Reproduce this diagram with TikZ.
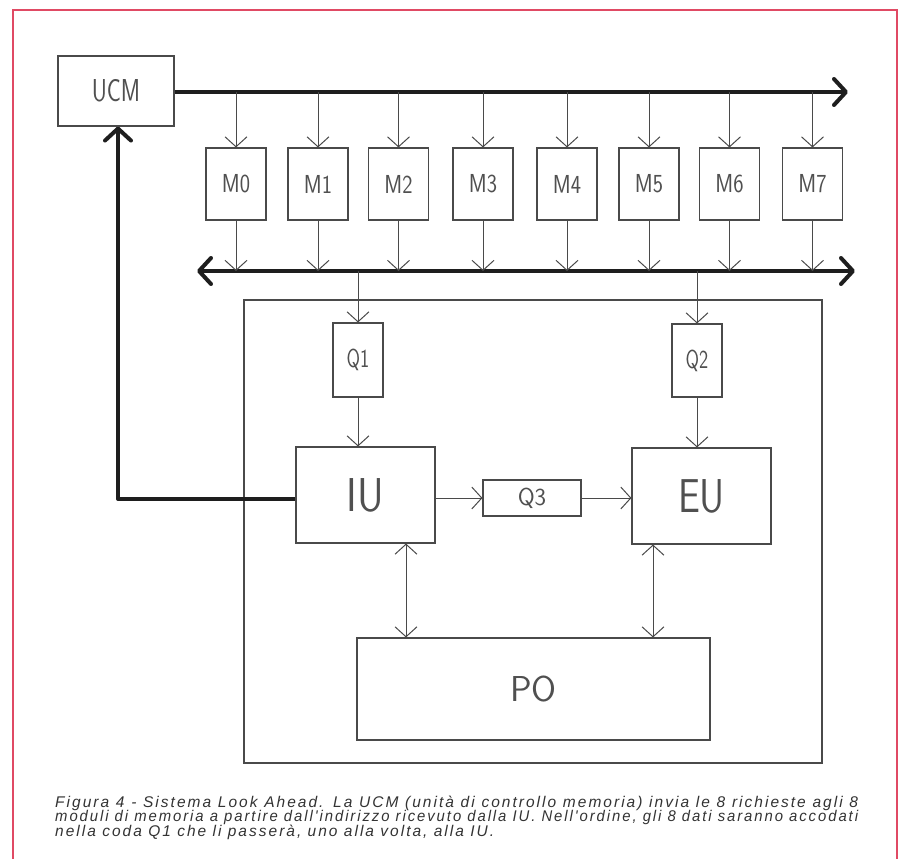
\documentclass[tikz,border=0pt]{standalone}
\usepackage{fontspec}
\usetikzlibrary{arrows.meta,calc}
\newfontfamily\capfont[LetterSpace=13]{Liberation Sans}
\definecolor{ink}{HTML}{4A4A4A}
\definecolor{labink}{HTML}{505050}
\definecolor{busink}{HTML}{1E1E1E}
\definecolor{frame}{HTML}{E04A64}
\newcommand{\lbl}[3]{\scalebox{#2}[1]{\fontsize{#1}{#1}\selectfont\sffamily #3}}
\newsavebox\capbox
\newcommand{\fitline}[1]{\sbox\capbox{#1}\ifdim\wd\capbox>803pt \resizebox{803pt}{\ht\capbox}{\usebox\capbox}\else\makebox[803pt][s]{#1}\fi}
\begin{document}
\begin{tikzpicture}[x=1pt,y=-1pt,
  box/.style={draw=ink,line width=1.1pt,inner sep=0pt,text=labink},
  wire/.style={draw=ink,line width=1pt},
  arr/.style={wire,-{Straight Barb[length=10pt,width=22pt]}},
  darr/.style={wire,{Straight Barb[length=10pt,width=22pt]}-{Straight Barb[length=10pt,width=22pt]}},
  busline/.style={draw=busink,line width=4pt,line join=round},
  bustip/.style={busline,-{Straight Barb[length=12pt,width=26pt,line cap=round,line join=round]}},
  bustips/.style={busline,{Straight Barb[length=12pt,width=26pt,line cap=round,line join=round]}-{Straight Barb[length=12pt,width=26pt,line cap=round,line join=round]}},
  captxt/.style={anchor=base west,inner sep=0pt,text=black!80,font=\capfont\itshape\fontsize{15.5}{15.5}\selectfont}]
\useasboundingbox (0,0) rectangle (898,859);
\fill[white] (0,0) rectangle (898,859);
% frame
\draw[frame,line width=2pt] (13,859) -- (13,10) -- (897,10) -- (897,859);
% boxes
\node[box,minimum width=116pt,minimum height=70pt] (ucm) at (116,91) {\lbl{31.7}{0.74}{UCM}};
\foreach \i/\x in {0/236,1/318,2/398.5,3/483,4/567,5/649,6/729.5,7/812.5}{
  \node[box,minimum width=60pt,minimum height=72pt] (m\i) at (\x,184) {\lbl{26}{0.84}{M\i}};
}
\node[box,minimum width=578pt,minimum height=463pt] (cpu) at (533,531.5) {};
\node[box,minimum width=50pt,minimum height=74pt] (q1) at (358,360) {\lbl{26}{0.75}{Q1}};
\node[box,minimum width=50pt,minimum height=73pt] (q2) at (697,360.5) {\lbl{26}{0.75}{Q2}};
\node[box,minimum width=139pt,minimum height=96pt] (iu) at (365.5,495) {\lbl{47.5}{0.87}{IU}};
\node[box,minimum width=139pt,minimum height=96pt] (eu) at (701.5,496) {\lbl{47.5}{0.82}{EU}};
\node[box,minimum width=98pt,minimum height=36pt] (q3) at (532,498) {\lbl{24.5}{1}{Q3}};
\node[box,minimum width=353pt,minimum height=102pt] (po) at (533.5,689) {\lbl{36}{1}{PO}};
% buses
\coordinate (tr) at (848,92);
\coordinate (bl) at (197,271);
\coordinate (br) at (855,271);
\coordinate (fb) at (118,499);
\draw[bustip] (ucm.east |- tr) -- (tr);
\draw[bustips] (bl) -- (br);
\draw[bustip] (iu.west |- fb) -- (fb) -- (ucm.south -| fb);
% memory arrows
\foreach \i in {0,...,7}{
  \draw[arr] (m\i.north |- tr) -- (m\i.north);
  \draw[arr] (m\i.south) -- (m\i.south |- bl);
}
% queues
\draw[arr] (q1.north |- bl) -- (q1.north);
\draw[arr] (q2.north |- bl) -- (q2.north);
\draw[arr] (q1.south) -- (q1.south |- iu.north);
\draw[arr] (q2.south) -- (q2.south |- eu.north);
\draw[arr] (iu.east |- q3.west) -- (q3.west);
\draw[arr] (q3.east) -- (q3.east -| eu.west);
\draw[darr] ([xshift=40.5pt]iu.south) -- ([xshift=40.5pt]iu.south |- po.north);
\draw[darr] ([xshift=-48.5pt]eu.south) -- ([xshift=-48.5pt]eu.south |- po.north);
% caption
\node[captxt] (c1) at (55,807) {\fitline{Figura 4 - Sistema Look Ahead. La UCM (unità di controllo memoria) invia le 8 richieste agli 8}};
\node[captxt] (c2) at (55,821.5) {\fitline{moduli di memoria a partire dall'indirizzo ricevuto dalla IU. Nell'ordine, gli 8 dati saranno accodati}};
\node[captxt] (c3) at (55,836) {nella coda Q1 che li passerà, uno alla volta, alla IU.};
\end{tikzpicture}
\end{document}
